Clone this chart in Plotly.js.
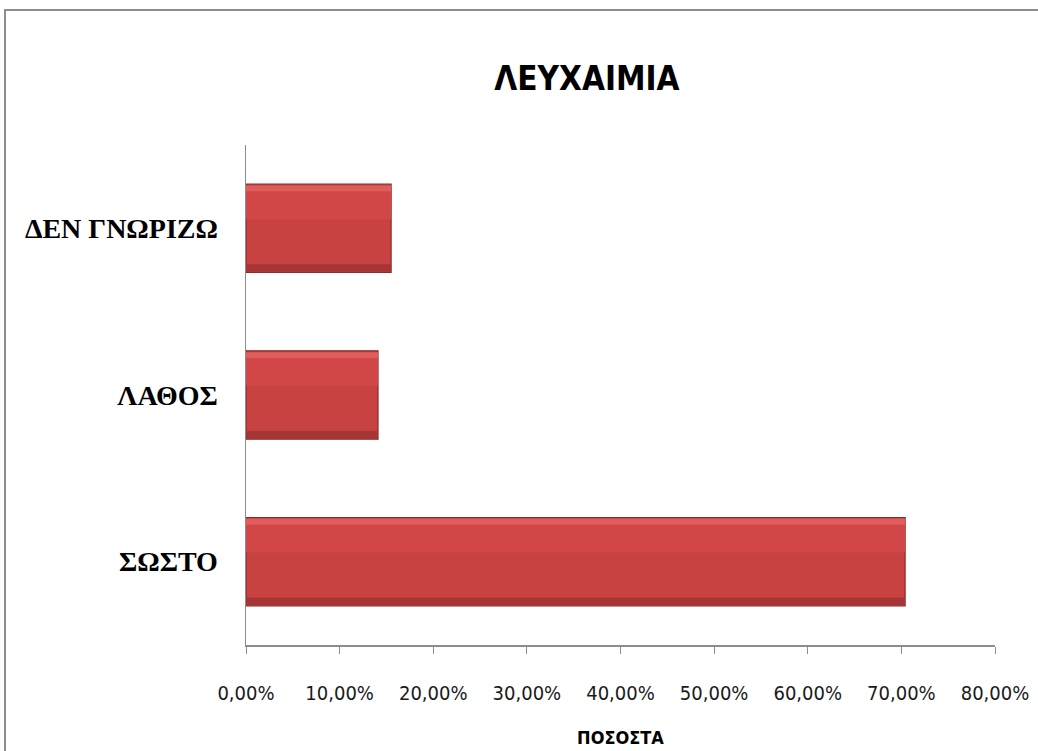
<!DOCTYPE html>
<html>
<head>
<meta charset="utf-8">
<script src="https://cdn.plot.ly/plotly-3.0.1.min.js"></script>
<style>
  html, body { margin: 0; padding: 0; background: #fff; overflow: hidden; }
  #wrap { position: relative; width: 1038px; height: 751px; overflow: hidden; }
  #frame { position: absolute; left: 4px; top: 9px; width: 1100px; height: 800px; border: 2px solid #8c8c8c; box-sizing: border-box; pointer-events: none; z-index: 5; }
  #chart { position: absolute; left: 0; top: 0; width: 1038px; height: 751px; }
</style>
</head>
<body>
<div id="wrap">
  <div id="chart"></div>
  <div id="frame"></div>
</div>
<script>
const categories = ["ΣΩΣΤΟ", "ΛΑΘΟΣ", "ΔΕΝ ΓΝΩΡΙΖΩ"];
const values = [0.704, 0.141, 0.155];
const xTickValues = [0, 0.1, 0.2, 0.3, 0.4, 0.5, 0.6, 0.7, 0.8];

const narrow = "'Liberation Sans Narrow', 'Arial Narrow', 'DejaVu Sans Condensed', sans-serif";

// main bar body
const body = {
  type: "bar",
  orientation: "h",
  y: categories,
  x: values,
  width: 0.53,
  offset: -0.265,
  marker: { color: "#c94242", line: { color: "#8e2a2a", width: 1.2 } },
  hoverinfo: "x+y"
};
// upper part, slightly lighter
const upper = {
  type: "bar",
  orientation: "h",
  y: categories,
  x: values,
  width: 0.2,
  offset: 0.055,
  marker: { color: "#d14747", line: { width: 0 } },
  hoverinfo: "skip"
};
// upper highlight of the bevel
const highlight = {
  type: "bar",
  orientation: "h",
  y: categories,
  x: values,
  width: 0.035,
  offset: 0.222,
  marker: { color: "#df5d5d", line: { width: 0 } },
  hoverinfo: "skip"
};
// lower shade of the bevel
const shade = {
  type: "bar",
  orientation: "h",
  y: categories,
  x: values,
  width: 0.045,
  offset: -0.26,
  marker: { color: "#a63636", line: { width: 0 } },
  hoverinfo: "skip"
};

const layout = {
  width: 1038,
  height: 751,
  paper_bgcolor: "#ffffff",
  plot_bgcolor: "#ffffff",
  margin: { l: 246, r: 43, t: 145, b: 106 },
  showlegend: false,
  barmode: "overlay",
  title: {
    text: "<b>ΛΕΥΧΑΙΜΙΑ</b>",
    font: { family: narrow, size: 33, color: "#000" },
    x: 0.5655, xref: "container", xanchor: "center",
    y: 0.895, yref: "container", yanchor: "middle"
  },
  xaxis: {
    range: [0, 0.8],
    tickvals: xTickValues,
    tickformat: ".2%",
    ticks: "outside",
    ticklen: 7,
    tickcolor: "#8c8c8c",
    showline: true,
    linecolor: "#8c8c8c",
    linewidth: 1.5,
    showgrid: false,
    zeroline: false,
    ticklabelstandoff: 22,
    tickfont: { family: narrow, size: 20, color: "#1a1a1a" },
    title: {
      text: "<b>ΠΟΣΟΣΤΑ</b>",
      font: { family: narrow, size: 18, color: "#000" },
      standoff: 28
    },
    fixedrange: true
  },
  yaxis: {
    type: "category",
    categoryorder: "array",
    categoryarray: categories,
    showline: true,
    linecolor: "#8c8c8c",
    linewidth: 1.5,
    showgrid: false,
    zeroline: false,
    ticks: "",
    ticklabelstandoff: 21,
    tickfont: { family: "'Liberation Serif', 'Times New Roman', serif", size: 28, color: "#000", weight: "bold" },
    fixedrange: true
  },
  separators: ",."
};

Plotly.newPlot("chart", [body, upper, shade, highlight], layout, { displayModeBar: false, staticPlot: true });
</script>
</body>
</html>
